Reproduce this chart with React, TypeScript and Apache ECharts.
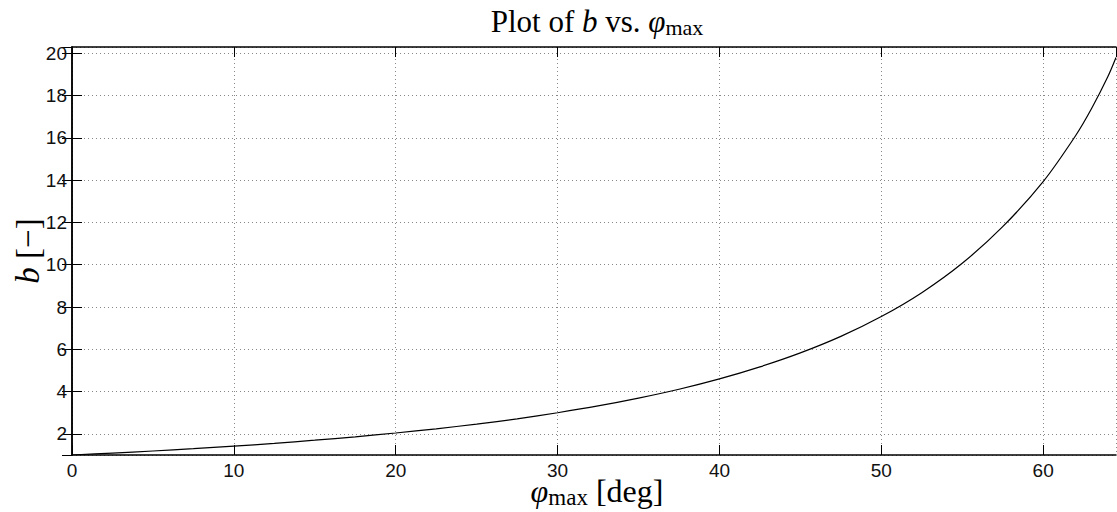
import React, { useEffect, useRef } from "react";
import * as echarts from "echarts";

const phiDeg = [0, 2.5, 5, 7.5, 10, 12.5, 15, 17.5, 20, 22.5, 25, 27.5, 30, 32.5, 35, 37.5, 40, 42.5, 45, 47.5, 50, 52.5, 55, 57.5, 60, 62, 63, 64, 64.5];
const bValues = [1.0, 1.09, 1.19, 1.3, 1.42, 1.55, 1.7, 1.86, 2.04, 2.24, 2.46, 2.71, 3.0, 3.32, 3.69, 4.11, 4.6, 5.17, 5.83, 6.61, 7.55, 8.68, 10.07, 11.8, 13.93, 16.1, 17.4, 18.9, 19.8];
const xRange = [0, 64.5];
const yRange = [1, 20.3];

const TICK_FONT = "Liberation Sans";
const SERIF = "Liberation Serif";

export default function App() {
  const ref = useRef<HTMLDivElement>(null);
  useEffect(() => {
    if (!ref.current) return;
    const chart = echarts.init(ref.current, undefined, { renderer: "svg" });
    const data = phiDeg.map((x, i) => [x, bValues[i]]);
    const splitLine = { show: true, lineStyle: { color: "#888", type: [1, 3] as any, width: 1 } };
    const axisLine = { show: true, lineStyle: { color: "#000", width: 1.5 } };
    const tick = {
      show: true,
      inside: true,
      length: 10,
      lineStyle: { color: "#000", width: 1 },
    };
    const label = (margin: number) => ({
      show: true,
      color: "#111",
      fontFamily: TICK_FONT,
      fontSize: 19,
      margin,
      showMinLabel: true,
      showMaxLabel: false,
      hideOverlap: false,
    });
    const xBase = { type: "value", min: xRange[0], max: xRange[1], interval: 10, axisLine, axisTick: tick };
    const yBase = { type: "value", min: yRange[0], max: yRange[1], splitNumber: 10, axisLine, axisTick: tick };
    chart.setOption({
      animation: false,
      backgroundColor: "#fff",
      grid: { left: 72, right: 1, top: 47, bottom: 57, containLabel: false },
      xAxis: [
        { ...xBase, axisLabel: label(6), splitLine },
        { ...xBase, position: "top", axisLabel: { show: false }, splitLine: { show: false } },
      ],
      yAxis: [
        { ...yBase, axisLabel: { ...label(5), showMinLabel: false }, splitLine },
        { ...yBase, position: "right", axisLabel: { show: false }, splitLine: { show: false } },
      ],
      series: [
        {
          type: "line",
          data,
          smooth: 0.3,
          showSymbol: false,
          lineStyle: { color: "#000", width: 1.2 },
          xAxisIndex: 0,
          yAxisIndex: 0,
        },
      ],
      graphic: [
        {
          type: "text",
          x: 597,
          y: 21,
          style: {
            text: "{n|Plot of }{i|b}{n| vs. }{p|φ}{s|max}",
            align: "center",
            verticalAlign: "middle",
            rich: {
              n: { fontFamily: SERIF, fontSize: 31, fill: "#000" },
              i: { fontFamily: SERIF, fontSize: 31, fontStyle: "italic", fill: "#000" },
              p: { fontFamily: SERIF, fontSize: 31, fontStyle: "italic", fill: "#000" },
              s: { fontFamily: SERIF, fontSize: 22, fill: "#000", padding: [12, 0, 0, 0] },
            },
          },
        },
        {
          type: "text",
          x: 597,
          y: 491,
          style: {
            text: "{p|φ}{s|max}{n| [deg]}",
            align: "center",
            verticalAlign: "middle",
            rich: {
              n: { fontFamily: SERIF, fontSize: 32, fill: "#000" },
              p: { fontFamily: SERIF, fontSize: 32, fontStyle: "italic", fill: "#000" },
              s: { fontFamily: SERIF, fontSize: 23, fill: "#000", padding: [13, 0, 0, 0] },
            },
          },
        },
        {
          type: "text",
          x: 28,
          y: 251,
          rotation: Math.PI / 2,
          style: {
            text: "{i|b}{n| [−]}",
            align: "center",
            verticalAlign: "middle",
            rich: {
              n: { fontFamily: SERIF, fontSize: 33, fill: "#000" },
              i: { fontFamily: SERIF, fontSize: 33, fontStyle: "italic", fill: "#000" },
            },
          },
        },
      ],
    });
    return () => chart.dispose();
  }, []);
  return (
    <div
      ref={ref}
      style={{ position: "fixed", left: 0, top: 0, width: 1117, height: 512, background: "#fff" }}
    />
  );
}
